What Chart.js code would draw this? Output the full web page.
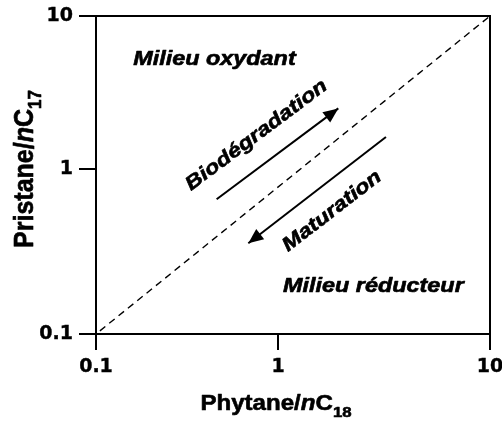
<!DOCTYPE html>
<html><head><meta charset="utf-8">
<script src="https://cdn.jsdelivr.net/npm/chart.js@4/dist/chart.umd.min.js"></script>
<style>html,body{margin:0;padding:0;background:#fff}#wrap{width:502px;height:424px;position:relative}</style>
</head><body><div id="wrap"><canvas id="c"></canvas></div>
<script>
// ---- data ----
const xTickValues = [0.1, 1, 10];
const xTickLabels = ['0.1', '1', '10'];
const yTickValues = [0.1, 1, 10];
const yTickLabels = ['0.1', '1', '10'];
const diagonalLine = [{x: 0.1, y: 0.1}, {x: 10, y: 10}];
const biodegradationArrow = [{x: 0.46, y: 0.655}, {x: 1.925, y: 2.49}];
const maturationArrow = [{x: 3.23, y: 1.62}, {x: 0.687, y: 0.355}];
const noteTexts = ['Milieu oxydant', 'Milieu réducteur', 'Biodégradation', 'Maturation'];

// ---- annotation placement (data units) ----
const notes = [
  {text: noteTexts[0], x: 0.16, y: 4.78},
  {text: noteTexts[1], x: 1.056, y: 0.18},
  {text: noteTexts[2], x: 0.333, y: 0.736, along: 1},
  {text: noteTexts[3], x: 1.115, y: 0.314, along: 2}
];

const FAM = '"Liberation Sans", Arial, sans-serif';
const TICKFAM = '"DejaVu Sans", sans-serif';
const HEAVY = 0.6;

// Log scale whose middle decade sits at a chosen fraction of the axis
const LogBase = Chart.LogarithmicScale || Chart.registry.getScale('logarithmic');
class SplitLogScale extends LogBase {
  _dec(value) {
    const f = this.options.midFraction;
    const lmin = Math.log10(this.min), lmax = Math.log10(this.max), lmid = Math.log10(this.options.midValue);
    const l = Math.log10(value);
    return l <= lmid ? (l - lmin) / (lmid - lmin) * f : f + (l - lmid) / (lmax - lmid) * (1 - f);
  }
  getPixelForValue(value) {
    if (value === undefined || value === 0) value = this.min;
    if (value === null || isNaN(value)) return NaN;
    return this.getPixelForDecimal(this._dec(value));
  }
  getValueForPixel(pixel) {
    const d = this.getDecimalForPixel(pixel);
    const f = this.options.midFraction;
    const lmin = Math.log10(this.min), lmax = Math.log10(this.max), lmid = Math.log10(this.options.midValue);
    const l = d <= f ? lmin + d / f * (lmid - lmin) : lmid + (d - f) / (1 - f) * (lmax - lmid);
    return Math.pow(10, l);
  }
}
SplitLogScale.id = 'splitLog';
SplitLogScale.defaults = {};
Chart.register(SplitLogScale);

function labelFor(values, labels) {
  return (v) => { const i = values.findIndex(t => Math.abs(t - v) < 1e-9); return i >= 0 ? labels[i] : ''; };
}

function heavyText(ctx, t, x, y) {
  ctx.lineWidth = HEAVY; ctx.strokeStyle = '#000'; ctx.lineJoin = 'round';
  ctx.strokeText(t, x, y);
  ctx.fillText(t, x, y);
}

// rich title: parts drawn centred at local (0,0)
function drawRich(ctx, parts, big, small, subDy) {
  const fonts = parts.map(p => p[1] === 'italic' ? `italic bold ${big}px ${FAM}` : p[1] === 'sub' ? `bold ${small}px ${FAM}` : `bold ${big}px ${FAM}`);
  let w = 0;
  parts.forEach((p, i) => { ctx.font = fonts[i]; w += ctx.measureText(p[0]).width; });
  let cx = -w / 2;
  ctx.textAlign = 'left'; ctx.textBaseline = 'alphabetic'; ctx.fillStyle = '#000';
  parts.forEach((p, i) => {
    ctx.font = fonts[i];
    heavyText(ctx, p[0], cx, p[1] === 'sub' ? subDy : 0);
    cx += ctx.measureText(p[0]).width;
  });
}

const decor = {
  id: 'decor',
  afterDatasetsDraw(chart) {
    const ctx = chart.ctx;
    [1, 2].forEach(i => {
      const pts = chart.getDatasetMeta(i).data;
      const a = pts[0], b = pts[1];
      const ang = Math.atan2(b.y - a.y, b.x - a.x);
      const L = 15, W = 6.5;
      const bx = b.x - L * Math.cos(ang), by = b.y - L * Math.sin(ang);
      ctx.save();
      ctx.fillStyle = '#000';
      ctx.beginPath();
      ctx.moveTo(b.x, b.y);
      ctx.lineTo(bx - W * Math.sin(ang), by + W * Math.cos(ang));
      ctx.lineTo(bx + W * Math.sin(ang), by - W * Math.cos(ang));
      ctx.closePath();
      ctx.fill();
      ctx.restore();
    });
  },
  afterDraw(chart) {
    const ctx = chart.ctx, ca = chart.chartArea;
    const xs = chart.scales.x, ys = chart.scales.y;
    ctx.save();
    // top & right frame
    ctx.strokeStyle = '#000'; ctx.lineWidth = 2;
    ctx.beginPath();
    ctx.moveTo(ca.left - 1, ca.top); ctx.lineTo(ca.right, ca.top); ctx.lineTo(ca.right, ca.bottom + 1);
    ctx.stroke();
    // notes
    notes.forEach(n => {
      const px = xs.getPixelForValue(n.x), py = ys.getPixelForValue(n.y);
      ctx.save();
      ctx.translate(px, py);
      if (n.along) {
        const pts = chart.getDatasetMeta(n.along).data;
        let ang = Math.atan2(pts[1].y - pts[0].y, pts[1].x - pts[0].x);
        if (ang > Math.PI / 2) ang -= Math.PI; if (ang < -Math.PI / 2) ang += Math.PI;
        ctx.rotate(ang);
      }
      ctx.scale(1.2, 1);
      ctx.font = `italic bold 19.5px ${FAM}`;
      ctx.fillStyle = '#000'; ctx.textAlign = 'left'; ctx.textBaseline = 'alphabetic';
      heavyText(ctx, n.text, 0, 0);
      ctx.restore();
    });
    // axis titles
    ctx.save();
    ctx.translate(xs.getPixelForValue(1) - 2, 410);
    ctx.scale(1.12, 1);
    drawRich(ctx, [['Phytane/', ''], ['n', 'italic'], ['C', ''], ['18', 'sub']], 21.5, 15, 7);
    ctx.restore();
    ctx.save();
    ctx.translate(33, ys.getPixelForValue(1));
    ctx.rotate(-Math.PI / 2);
    ctx.scale(1, 1.1);
    drawRich(ctx, [['Pristane/', ''], ['n', 'italic'], ['C', ''], ['17', 'sub']], 25, 17, 7);
    ctx.restore();
    ctx.restore();
  }
};

const tickFont = {family: TICKFAM, weight: 'bold', size: 19};
function axisGrid(len) {
  return {display: true, drawOnChartArea: false, drawTicks: true, tickLength: len, tickWidth: 2, tickColor: '#000', color: '#000', lineWidth: 2};
}

new Chart(document.getElementById('c'), {
  type: 'scatter',
  data: {
    datasets: [
      {data: diagonalLine, showLine: true, borderColor: '#000', borderWidth: 1.4, borderDash: [7, 5], borderDashOffset: 7, pointRadius: 0, fill: false},
      {data: biodegradationArrow, showLine: true, borderColor: '#000', borderWidth: 2, pointRadius: 0, fill: false},
      {data: maturationArrow, showLine: true, borderColor: '#000', borderWidth: 2, pointRadius: 0, fill: false}
    ]
  },
  options: {
    responsive: true, maintainAspectRatio: false, animation: false, events: [],
    layout: {padding: {top: 16, right: 12, left: 0, bottom: 0}},
    plugins: {legend: {display: false}, tooltip: {enabled: false}},
    scales: {
      x: {
        type: 'splitLog', position: 'bottom', min: 0.1, max: 10, bounds: 'data',
        midValue: 1, midFraction: 182 / 394,
        afterBuildTicks: (s) => { s.ticks = xTickValues.map(v => ({value: v})); },
        afterFit: (s) => { s.height = 90; s.paddingLeft = 0; s.paddingRight = 0; },
        grid: axisGrid(16),
        border: {display: true, color: '#000', width: 2},
        ticks: {autoSkip: false, maxRotation: 0, padding: 6, color: '#000', textStrokeColor: '#000', textStrokeWidth: 0.4, font: tickFont, callback: labelFor(xTickValues, xTickLabels)}
      },
      y: {
        type: 'splitLog', position: 'left', min: 0.1, max: 10, bounds: 'data',
        midValue: 1, midFraction: 165 / 318,
        afterBuildTicks: (s) => { s.ticks = yTickValues.map(v => ({value: v})); },
        afterFit: (s) => { s.width = 96; s.paddingTop = 0; s.paddingBottom = 0; },
        grid: axisGrid(17),
        border: {display: true, color: '#000', width: 2},
        ticks: {autoSkip: false, padding: 6, color: '#000', textStrokeColor: '#000', textStrokeWidth: 0.4, font: tickFont, callback: labelFor(yTickValues, yTickLabels)}
      }
    }
  },
  plugins: [decor]
});
</script>
</body></html>
